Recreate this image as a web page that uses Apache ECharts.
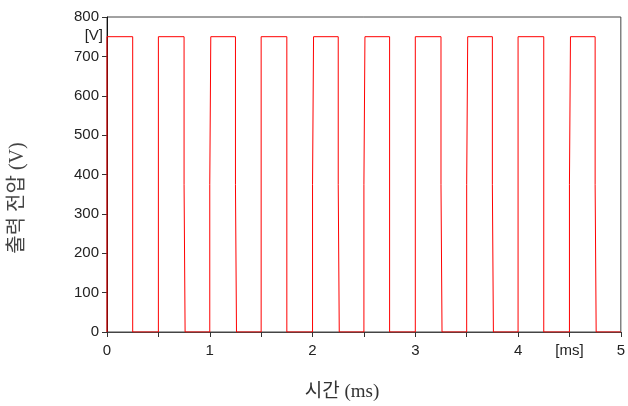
<!DOCTYPE html>
<html>
<head>
<meta charset="utf-8">
<script src="https://cdn.jsdelivr.net/npm/echarts@6/dist/echarts.min.js"></script>
<style>
html,body{margin:0;padding:0;background:#fff;}
#chart{width:628px;height:406px;}
</style>
</head>
<body>
<div id="chart"></div>
<script>
// Time (ms) and output voltage (V) points of the waveform
var timeMs = [0,0,0.25,0.25,0.5,0.5,0.75,0.75,0.76,0.76,1.0,1.0,1.01,1.01,1.25,1.25,1.26,1.26,1.5,1.5,1.75,1.75,2.0,2.0,2.01,2.01,2.25,2.25,2.26,2.26,2.5,2.5,2.51,2.51,2.75,2.75,3.0,3.0,3.25,3.25,3.26,3.26,3.5,3.5,3.51,3.51,3.75,3.75,3.76,3.76,4.0,4.0,4.25,4.25,4.5,4.5,4.51,4.51,4.75,4.75,4.76,4.76,5.0];
var voltage = [0,750,750,0,0,750,750,375,375,0,0,375,375,750,750,375,375,0,0,750,750,0,0,375,375,750,750,375,375,0,0,375,375,750,750,0,0,750,750,375,375,0,0,375,375,750,750,375,375,0,0,750,750,0,0,375,375,750,750,375,375,0,0];
var xTickLabels = {0:'0',1:'1',2:'2',3:'3',4:'4',4.5:'[ms]',5:'5'};
var yUnitLabel = '[V]';
var xTitle = '시간 (ms)';
var yTitle = '출력 전압 (V)';

var pts = timeMs.map(function(t,i){return [t, voltage[i]];});
var chart = echarts.init(document.getElementById('chart'));
var labelFont = "'Liberation Sans', Arial, sans-serif";
chart.setOption({
  animation:false,
  grid:{left:107,right:7,top:17,bottom:74,show:true,borderColor:'#444',borderWidth:1,backgroundColor:'transparent'},
  xAxis:{type:'value',min:0,max:5,interval:0.5,
    axisLine:{lineStyle:{color:'#444',width:1}},
    axisTick:{show:true,inside:false,length:5,lineStyle:{color:'#333'}},
    splitLine:{show:false},
    axisLabel:{margin:11,fontSize:15,color:'#222',fontFamily:labelFont,
      formatter:function(v){var k=Math.round(v*10)/10;return xTickLabels.hasOwnProperty(k)?xTickLabels[k]:'';}}
  },
  yAxis:{type:'value',min:0,max:800,interval:100,
    axisLine:{show:true,lineStyle:{color:'#111',width:1}},
    axisTick:{show:true,inside:false,length:5,lineStyle:{color:'#333'}},
    splitLine:{show:false},
    axisLabel:{margin:8,fontSize:15,color:'#222',fontFamily:labelFont}
  },
  graphic:[
    {type:'text',right:628-103,top:28,style:{text:yUnitLabel,fill:'#222',font:"15px 'Liberation Sans', Arial, sans-serif"}},
    {type:'text',x:342,y:392,style:{text:xTitle,fill:'#333',font:"19px 'Liberation Serif', 'Noto Sans CJK KR', serif",textAlign:'center',textVerticalAlign:'middle'}},
    {type:'text',x:18,y:198,rotation:Math.PI/2,style:{text:yTitle,fill:'#444',font:"20px 'Liberation Serif', 'Noto Sans CJK KR', serif",textAlign:'center',textVerticalAlign:'middle'}}
  ],
  series:[{type:'line',data:pts,showSymbol:false,symbol:'none',
    lineStyle:{color:'#ff0000',width:1},z:5,clip:true}]
});
</script>
</body>
</html>
